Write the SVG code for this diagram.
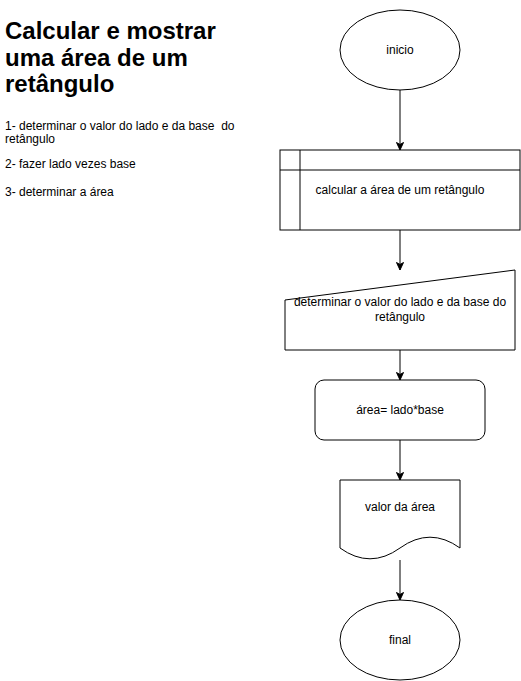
<svg xmlns="http://www.w3.org/2000/svg" width="521" height="681" viewBox="0 0 521 681">
<style>
.s{fill:#fff;stroke:#000;stroke-width:1}
.l{fill:none;stroke:#000;stroke-width:1}
.t{font-family:"Liberation Sans",Arial,sans-serif;font-size:12px;fill:#000}
.c{text-anchor:middle}
.h{font-family:"Liberation Sans",Arial,sans-serif;font-size:24px;font-weight:bold;fill:#000}
</style>
<defs>
<marker id="arr" markerUnits="userSpaceOnUse" markerWidth="10" markerHeight="10" viewBox="-8 -5 10 10" refX="0" refY="0" orient="auto">
<path d="M0,0 L-7.5,-3.5 L-5.5,0 L-7.5,3.5 Z" fill="#000" stroke="#000" stroke-width="1"/>
</marker>
</defs>
<rect width="521" height="681" fill="#fff"/>
<g id="title">
<text class="h" x="5" y="39">Calcular e mostrar</text>
<text class="h" x="5" y="65.5">uma área de um</text>
<text class="h" x="5" y="92">retângulo</text>
</g>
<g id="steps">
<text class="t" x="5" y="130" xml:space="preserve">1- determinar o valor do lado e da base  do</text>
<text class="t" x="5" y="143">retângulo</text>
<text class="t" x="5" y="168">2- fazer lado vezes base</text>
<text class="t" x="5" y="196">3- determinar a área</text>
</g>
<g id="connectors">
<line class="l" x1="400" y1="90" x2="400" y2="150" marker-end="url(#arr)"/>
<line class="l" x1="400" y1="230" x2="400" y2="270" marker-end="url(#arr)"/>
<line class="l" x1="400" y1="350" x2="400" y2="380" marker-end="url(#arr)"/>
<line class="l" x1="400" y1="440" x2="400" y2="480" marker-end="url(#arr)"/>
<line class="l" x1="400" y1="560" x2="400" y2="600" marker-end="url(#arr)"/>
</g>
<g id="inicio">
<ellipse class="s" cx="400" cy="50" rx="60" ry="40"/>
<text class="t c" x="400" y="54">inicio</text>
</g>
<g id="calcular">
<rect class="s" x="280" y="150" width="240" height="80"/>
<line class="l" x1="300" y1="150" x2="300" y2="230"/>
<line class="l" x1="280" y1="170" x2="520" y2="170"/>
<text class="t c" x="400" y="194">calcular a área de um retângulo</text>
</g>
<g id="entrada">
<path class="s" d="M285,300 L515,270 L515,350 L285,350 Z"/>
<text class="t c" x="400" y="306">determinar o valor do lado e da base do</text>
<text class="t c" x="400" y="321">retângulo</text>
</g>
<g id="area">
<rect class="s" x="315" y="380" width="170" height="60" rx="9" ry="9"/>
<text class="t c" x="400" y="414">área= lado*base</text>
</g>
<g id="valor">
<path class="s" d="M340,480 L460,480 L460,548 Q430,526.4 400,548 Q370,569.6 340,548 Z"/>
<text class="t c" x="400" y="511">valor da área</text>
</g>
<g id="final">
<ellipse class="s" cx="400" cy="640" rx="60" ry="40"/>
<text class="t c" x="400" y="644">final</text>
</g>
</svg>
